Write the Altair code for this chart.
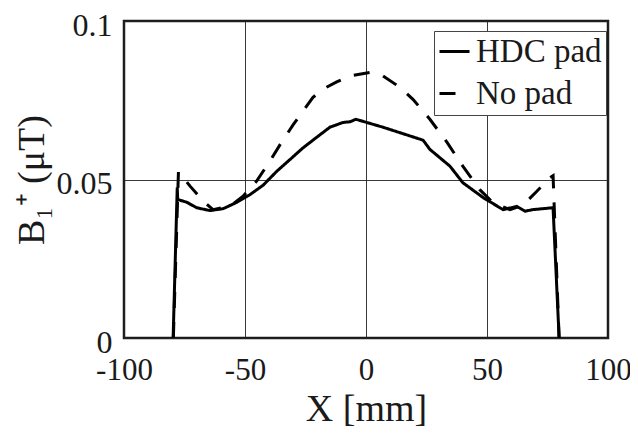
import altair as alt
import pandas as pd

# HDC pad series
hdc_x = [-79.7, -78.0, -77.8, -74.0, -70.0, -64.5, -59.0, -53.4, -48.0, -42.5, -37.0,
         -31.4, -26.0, -20.4, -14.9, -9.5, -6.6, -4.2, 7.0, 23.6, 26.4, 34.7, 40.0,
         48.4, 56.6, 62.3, 65.7, 69.0, 77.3, 79.8]
hdc_y = [0.0, 0.0475, 0.0437, 0.0428, 0.0411, 0.0402, 0.0408, 0.0428, 0.0452, 0.0482, 0.0525,
         0.0563, 0.0600, 0.0633, 0.0665, 0.0680, 0.0682, 0.0690, 0.0665, 0.0624, 0.0595, 0.0542, 0.0490,
         0.0443, 0.0405, 0.0415, 0.0400, 0.0405, 0.0411, 0.0]

# No pad series
nop_x = [-79.6, -77.5, -72.7, -67.3, -63.2, -56.2, -50.8, -45.2, -39.7, -35.5, -30.0,
         -26.0, -21.9, -17.8, -12.1, -6.6, 1.7, 7.0, 14.0, 19.4, 26.4, 33.5, 40.0,
         47.0, 52.5, 59.5, 65.0, 70.6, 76.0, 77.3, 79.8]
nop_y = [0.0, 0.0525, 0.0479, 0.0432, 0.0405, 0.0416, 0.0447, 0.0495, 0.0558, 0.0610, 0.0674,
         0.0716, 0.0759, 0.0785, 0.0808, 0.0827, 0.0838, 0.0827, 0.0791, 0.0753, 0.0690, 0.0617, 0.0542,
         0.0468, 0.0427, 0.0405, 0.0420, 0.0463, 0.0506, 0.0512, 0.0]

series_names = ["HDC pad", "No pad"]
x_ticks = [-100, -50, 0, 50, 100]
y_ticks = [0, 0.05, 0.1]

rows = []
for i, (x, y) in enumerate(zip(hdc_x, hdc_y)):
    rows.append({"x": x, "y": y, "s": series_names[0], "o": i})
for i, (x, y) in enumerate(zip(nop_x, nop_y)):
    rows.append({"x": x, "y": y, "s": series_names[1], "o": i})
df = pd.DataFrame(rows)

FONT = "Liberation Serif"

chart = alt.Chart(df).mark_line(strokeWidth=3, color="black", clip=True).encode(
    x=alt.X("x:Q", scale=alt.Scale(domain=[-100, 100], nice=False),
            axis=alt.Axis(values=x_ticks, title="X [mm]", labelExpr="datum.value + ''")),
    y=alt.Y("y:Q", scale=alt.Scale(domain=[0, 0.1], nice=False),
            axis=alt.Axis(values=y_ticks, title="B₁⁺ (μT)", format=".2~f")),
    strokeDash=alt.StrokeDash("s:N",
        scale=alt.Scale(domain=series_names, range=[[1, 0], [16, 14]]),
        legend=alt.Legend(title=None, orient="none", legendX=310, legendY=10)),
    order="o:Q",
).properties(
    width=484, height=317,
    autosize=alt.AutoSizeParams(type="none"),
    padding={"left": 116, "top": 13, "right": 22, "bottom": 95},
).configure_view(
    stroke="#1a1a1a", strokeWidth=2.5
).configure_axis(
    labelFont=FONT, titleFont=FONT, labelFontSize=33, titleFontSize=38,
    labelColor="#1a1a1a", titleColor="#1a1a1a", titleFontWeight="normal",
    grid=True, gridColor="#222", gridWidth=0.9, gridOpacity=1,
    ticks=False, domain=False,
).configure_axisX(
    labelPadding=17, titlePadding=5, labelFlush=False, labelFontSize=31,
).configure_axisY(
    labelPadding=12, titlePadding=5, labelFlush=False, labelOffset=4, labelFontSize=32,
).configure_legend(
    labelFont=FONT, labelFontSize=33, labelColor="#1a1a1a",
    symbolType="stroke", symbolSize=900, symbolStrokeWidth=3,
    symbolStrokeColor="black", labelOffset=5, rowPadding=8,
    strokeColor="#444", fillColor="white", padding=4, cornerRadius=0,
)

chart.save("out.html", embed_options={"renderer": "svg", "actions": False})
